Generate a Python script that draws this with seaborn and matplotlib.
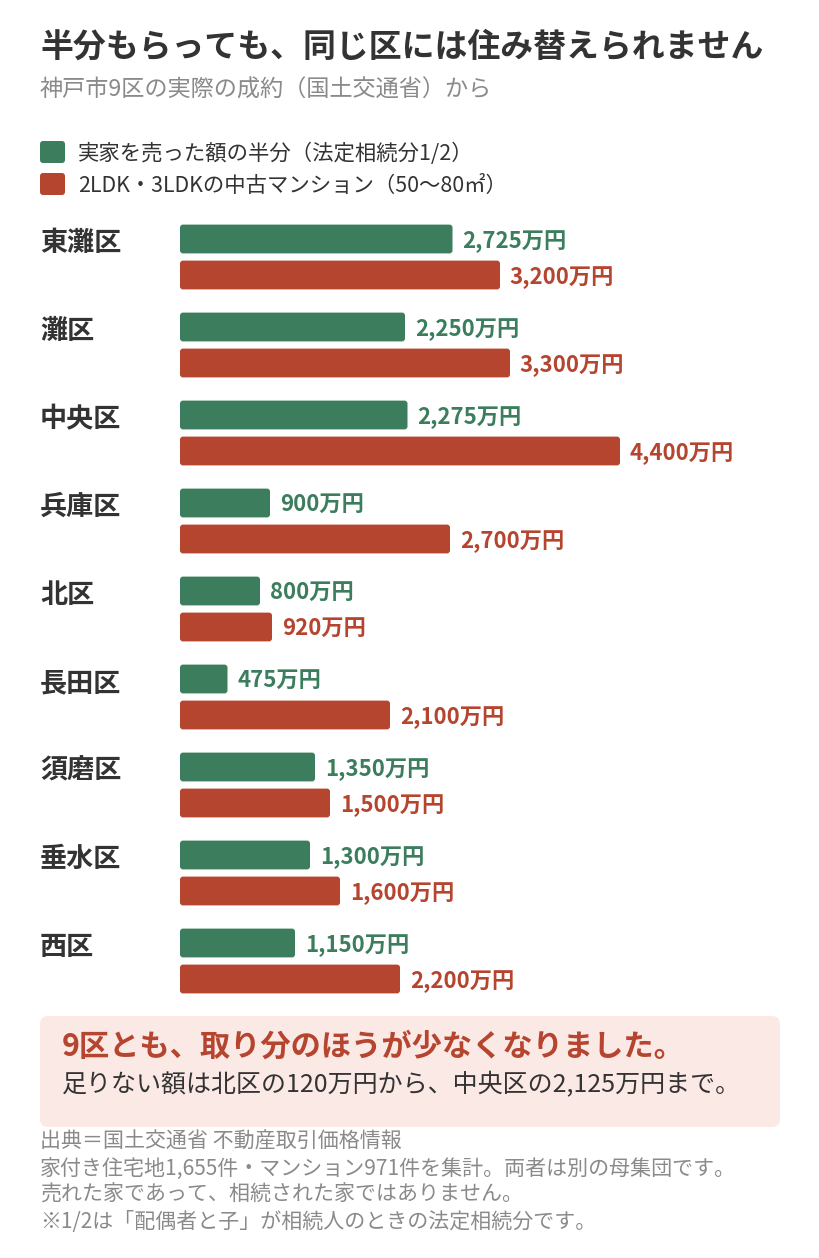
import pandas as pd
import seaborn as sns
import matplotlib.pyplot as plt
from matplotlib import transforms
from matplotlib.patches import FancyBboxPatch

districts = ["東灘区", "灘区", "中央区", "兵庫区", "北区", "長田区", "須磨区", "垂水区", "西区"]
half_value = [2725, 2250, 2275, 900, 800, 475, 1350, 1300, 1150]
condo_price = [3200, 3300, 4400, 2700, 920, 2100, 1500, 1600, 2200]
series_names = ["実家を売った額の半分（法定相続分1/2）", "2LDK・3LDKの中古マンション（50〜80㎡）"]

GREEN = "#3b7d5c"
RED = "#b5452f"
DARK = "#333333"
GRAY = "#8a8a8a"

df = pd.DataFrame({
    "district": districts * 2,
    "value": half_value + condo_price,
    "series": [series_names[0]] * len(districts) + [series_names[1]] * len(districts),
})

sns.set_theme(style="white")
plt.rcParams['font.family'] = ['Noto Sans CJK JP', 'DejaVu Sans']

W, H = 820, 1258
fig = plt.figure(figsize=(W / 100, H / 100), dpi=100)
ax = fig.add_axes([180 / W, 1 - 1005 / H, 600 / W, 792 / H])

sns.barplot(
    data=df, x="value", y="district", hue="series",
    palette=[GREEN, RED], saturation=1, width=0.818, gap=0.2,
    orient="h", legend=False, ax=ax,
)
ax.set_xlim(0, 6000)
ax.set_ylim(8.5, -0.5)

# value labels
for cont, col in zip(ax.containers, [GREEN, RED]):
    anns = ax.bar_label(cont, labels=[f"{int(b.get_width()):,}万円" for b in cont],
                        padding=7, color=col, fontsize=16, fontweight="bold")
    for a in anns:
        a.xyann = (7, -2)

# rounded bars
for p in list(ax.patches):
    x, y = p.get_x(), p.get_y()
    w, h = p.get_width(), p.get_height()
    rb = FancyBboxPatch((x, y), w, h, boxstyle="round,pad=0,rounding_size=30",
                        mutation_aspect=0.034 / 30, facecolor=p.get_facecolor(),
                        edgecolor="none")
    ax.add_patch(rb)
    p.remove()

ax.set_xlabel("")
ax.set_ylabel("")
ax.set_xticks([])
ax.set_yticks([])
sns.despine(ax=ax, left=True, bottom=True)

# district names
trans = transforms.blended_transform_factory(fig.transFigure, ax.transData)
for i, name in enumerate(districts):
    ax.text(40 / W, i - 0.16, name, transform=trans, ha="left", va="center",
            fontsize=19.5, fontweight="bold", color=DARK)

# title block
fig.text(40 / W, 1 - 47 / H, "半分もらっても、同じ区には住み替えられません",
         ha="left", va="center", fontsize=23.7, fontweight="bold", color=DARK)
fig.text(40 / W, 1 - 90 / H, "神戸市9区の実際の成約（国土交通省）から",
         ha="left", va="center", fontsize=16.7, color=GRAY)

# legend
for k, (name, col) in enumerate(zip(series_names, [GREEN, RED])):
    yc = 152 + 32 * k
    fig.patches.append(FancyBboxPatch((40 / W, 1 - (yc + 11) / H), 25 / W, 22 / H,
                                      boxstyle="round,pad=0,rounding_size=0.004",
                                      mutation_aspect=W / H,
                                      transform=fig.transFigure, facecolor=col,
                                      edgecolor="none"))
    fig.text(78 / W, 1 - (yc + 2) / H, name, ha="left", va="center",
             fontsize=15.4, color=DARK)

# callout
fig.patches.append(FancyBboxPatch((40 / W, 1 - 1127 / H), 740 / W, 111 / H,
                                  boxstyle="round,pad=0,rounding_size=0.01",
                                  mutation_aspect=W / H,
                                  transform=fig.transFigure, facecolor="#fbe9e6",
                                  edgecolor="none"))
fig.text(62 / W, 1 - 1047 / H, "9区とも、取り分のほうが少なくなりました。",
         ha="left", va="center", fontsize=21.8, fontweight="bold", color=RED)
fig.text(62 / W, 1 - 1085 / H, "足りない額は北区の120万円から、中央区の2,125万円まで。",
         ha="left", va="center", fontsize=18, color=DARK)

notes = [
    "出典＝国土交通省 不動産取引価格情報",
    "家付き住宅地1,655件・マンション971件を集計。両者は別の母集団です。",
    "売れた家であって、相続された家ではありません。",
    "※1/2は「配偶者と子」が相続人のときの法定相続分です。",
]
for k, line in enumerate(notes):
    fig.text(40 / W, 1 - (1142 + 26.5 * k) / H, line, ha="left", va="center",
             fontsize=15.1, color=GRAY)

fig.savefig("out.png", dpi=100, facecolor="white")
